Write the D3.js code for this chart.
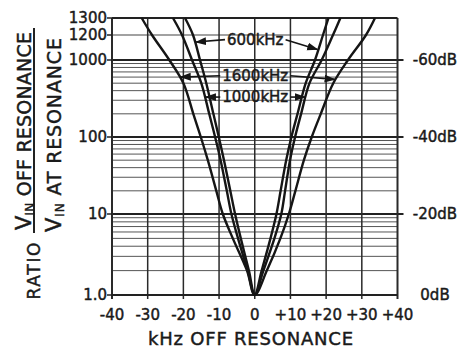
<!DOCTYPE html>
<html><head><meta charset="utf-8">
<script src="https://cdn.jsdelivr.net/npm/d3@7"></script>
<style>
html,body{margin:0;padding:0;background:#fff;}
svg{display:block;}
text{font-family:"DejaVu Sans",sans-serif;fill:#1a1a1a;stroke:#1a1a1a;stroke-width:0.45px;}
</style></head>
<body>
<svg id="chart" width="463" height="350"></svg>
<script>
// ---- data ----
const levels    = [1, 2, 5, 10, 20, 50, 100, 200, 500, 1000, 1200, 1300];
const left600   = [0, -1.64, -3.91, -5.51, -6.85, -8.62, -10.07, -11.59, -13.58, -15.34, -17.30, -19.54];
const right600  = [0, 1.94, 4.41, 6.08, 7.25, 8.81, 10.27, 11.98, 14.28, 16.88, 19.12, 20.66];
const left1000  = [0, -1.98, -4.69, -6.54, -7.83, -9.57, -11.11, -12.76, -14.98, -17.58, -20.38, -22.91];
const right1000 = [0, 2.42, 5.51, 7.44, 8.50, 9.88, 11.30, 12.99, 15.34, 18.76, 21.92, 24.00];
const left1600  = [0, -2.17, -6.15, -8.95, -10.77, -13.15, -15.12, -17.22, -19.99, -23.94, -28.79, -31.68];
const right1600 = [0, 3.39, 7.18, 9.56, 11.39, 13.77, 15.97, 18.50, 22.00, 26.13, 31.17, 33.69];

const xTicks = [-40, -30, -20, -10, 0, 10, 20, 30, 40];
const xTickLabels = ["-40", "-30", "-20", "-10", "0", "+10", "+20", "+30", "+40"];
const yTicks = [1, 10, 100, 1000, 1200, 1300];
const yTickLabels = ["1.0", "10", "100", "1000", "1200", "1300"];
const dbTicks = [1, 10, 100, 1000];
const dbLabels = ["0dB", "-20dB", "-40dB", "-60dB"];

const curveNames = ["600kHz", "1000kHz", "1600kHz"];
// annotation: label at ratio value, arrow tips on curve at ratio values
const annoLabelValues = [1160, 330, 625];
const annoLeftTips  = [1140, 330, 600];
const annoRightTips = [1080, 330, 560];

// ---- scales ----
const svg = d3.select("#chart");
const x = d3.scaleLinear().domain([-40, 40]).range([112, 397.5]);
const yl = d3.scaleLinear()
  .domain([0, 1, 2, 3, Math.log10(1200), Math.log10(1300)])
  .range([295, 214, 137, 60, 35, 18]);
const y = v => yl(Math.log10(v));
const x0 = x(-40), x1 = x(40), yb = y(1), yt = y(1300);

// ---- grid ----
const g = svg.append("g");
const minor = [];
for (let d = 0; d < 3; d++) for (let m = 2; m <= 9; m++) minor.push(m * Math.pow(10, d));
g.selectAll("line.minor").data(minor).join("line")
  .attr("x1", x0).attr("x2", x1).attr("y1", d => y(d)).attr("y2", d => y(d))
  .attr("stroke", "#555").attr("stroke-width", 1);
g.selectAll("line.major").data([10, 100, 1000]).join("line")
  .attr("x1", x0).attr("x2", x1 + 6).attr("y1", d => y(d)).attr("y2", d => y(d))
  .attr("stroke", "#222").attr("stroke-width", 2);
g.append("line").attr("x1", x0).attr("x2", x1).attr("y1", y(1200)).attr("y2", y(1200))
  .attr("stroke", "#444").attr("stroke-width", 1.2);
g.selectAll("line.v").data(xTicks).join("line")
  .attr("x1", d => x(d)).attr("x2", d => x(d)).attr("y1", yt).attr("y2", yb + 4)
  .attr("stroke", "#2a2a2a").attr("stroke-width", d => (d === -40 || d === 40) ? 2 : 1.5);
// frame
g.append("line").attr("x1", x0).attr("x2", x1).attr("y1", yt).attr("y2", yt).attr("stroke", "#222").attr("stroke-width", 2);
g.append("line").attr("x1", x0).attr("x2", x1).attr("y1", yb).attr("y2", yb).attr("stroke", "#222").attr("stroke-width", 2);
// left ticks
g.selectAll("line.lt").data(yTicks).join("line")
  .attr("x1", x0 - 5).attr("x2", x0).attr("y1", d => y(d)).attr("y2", d => y(d))
  .attr("stroke", "#222").attr("stroke-width", 1.5);

// ---- tick labels ----
svg.selectAll("text.yl").data(yTicks).join("text")
  .attr("x", x0 - 5).attr("y", d => y(d)).attr("dy", "0.36em")
  .attr("text-anchor", "end").attr("font-size", 15)
  .text((d, i) => yTickLabels[i]);
svg.selectAll("text.xl").data(xTicks).join("text")
  .attr("x", d => x(d)).attr("y", 320)
  .attr("text-anchor", "middle").attr("font-size", 15)
  .text((d, i) => xTickLabels[i]);
svg.selectAll("text.db").data(dbTicks).join("text")
  .attr("x", 435).attr("y", d => y(d)).attr("dy", "0.36em")
  .attr("text-anchor", "middle").attr("font-size", 15)
  .text((d, i) => dbLabels[i]);

// ---- curves ----
const series = [[left600, right600], [left1000, right1000], [left1600, right1600]];
const line = d3.line().x(d => x(d[0])).y(d => y(d[1])).curve(d3.curveCatmullRom.alpha(0.5));
series.forEach(([L, R]) => {
  const pts = [];
  for (let i = levels.length - 1; i >= 1; i--) pts.push([L[i], levels[i]]);
  pts.push([0, 1]);
  for (let i = 1; i < levels.length; i++) pts.push([R[i], levels[i]]);
  svg.append("path").attr("d", line(pts)).attr("fill", "none")
    .attr("stroke", "#151515").attr("stroke-width", 2.4).attr("stroke-linejoin", "round");
});

// interpolation on a side of a curve in log(v)
function sideAt(arr, v) {
  const lv = Math.log10(v);
  for (let i = 0; i < levels.length - 1; i++) {
    const a = Math.log10(levels[i]), b = Math.log10(levels[i + 1]);
    if (lv >= a && lv <= b) return arr[i] + (arr[i + 1] - arr[i]) * (lv - a) / (b - a);
  }
  return arr[arr.length - 1];
}

// ---- annotations ----
const defs = svg.append("defs");
defs.append("marker").attr("id", "ah").attr("viewBox", "0 0 10 10").attr("refX", 9).attr("refY", 5)
  .attr("markerWidth", 7).attr("markerHeight", 7).attr("orient", "auto-start-reverse")
  .append("path").attr("d", "M0,1.5 L10,5 L0,8.5 Z").attr("fill", "#151515");
curveNames.forEach((name, i) => {
  const ly = y(annoLabelValues[i]);
  const t = svg.append("text").attr("x", x(0) + 0.5).attr("y", ly).attr("dy", "0.36em")
    .attr("text-anchor", "middle").attr("font-size", 15).text(name);
  const bb = t.node().getBBox();
  const [L, R] = series[i];
  const lt = [x(sideAt(L, annoLeftTips[i])), y(annoLeftTips[i])];
  const rt = [x(sideAt(R, annoRightTips[i])), y(annoRightTips[i])];
  svg.append("line").attr("x1", bb.x - 2).attr("y1", ly).attr("x2", lt[0] + 1).attr("y2", lt[1])
    .attr("stroke", "#151515").attr("stroke-width", 1.6).attr("marker-end", "url(#ah)");
  svg.append("line").attr("x1", bb.x + bb.width + 2).attr("y1", ly).attr("x2", rt[0] - 1).attr("y2", rt[1])
    .attr("stroke", "#151515").attr("stroke-width", 1.6).attr("marker-end", "url(#ah)");
});

// ---- titles ----
svg.append("text").attr("x", 250.5).attr("y", 345).attr("text-anchor", "middle")
  .attr("font-size", 18).attr("textLength", 205).attr("lengthAdjust", "spacing")
  .text("kHz OFF RESONANCE");
svg.append("text").attr("transform", "translate(40,271) rotate(-90)").attr("text-anchor", "middle")
  .attr("font-size", 17).attr("textLength", 57).attr("lengthAdjust", "spacing").text("RATIO");
svg.append("line").attr("x1", 34).attr("x2", 34).attr("y1", 28).attr("y2", 233)
  .attr("stroke", "#222").attr("stroke-width", 2);
function fracLine(bx, cy, len, rest) {
  const t = svg.append("text").attr("transform", `translate(${bx},${cy}) rotate(-90)`)
    .attr("text-anchor", "middle").attr("textLength", len).attr("lengthAdjust", "spacing")
    .attr("font-size", 19);
  t.append("tspan").attr("font-size", 21).text("V");
  t.append("tspan").attr("font-size", 12).attr("dy", 3).text("IN");
  t.append("tspan").attr("dy", -3).text(rest);
}
fracLine(31, 131, 198, " OFF RESONANCE");
fracLine(61, 135, 194, " AT RESONANCE");
</script>
</body></html>
